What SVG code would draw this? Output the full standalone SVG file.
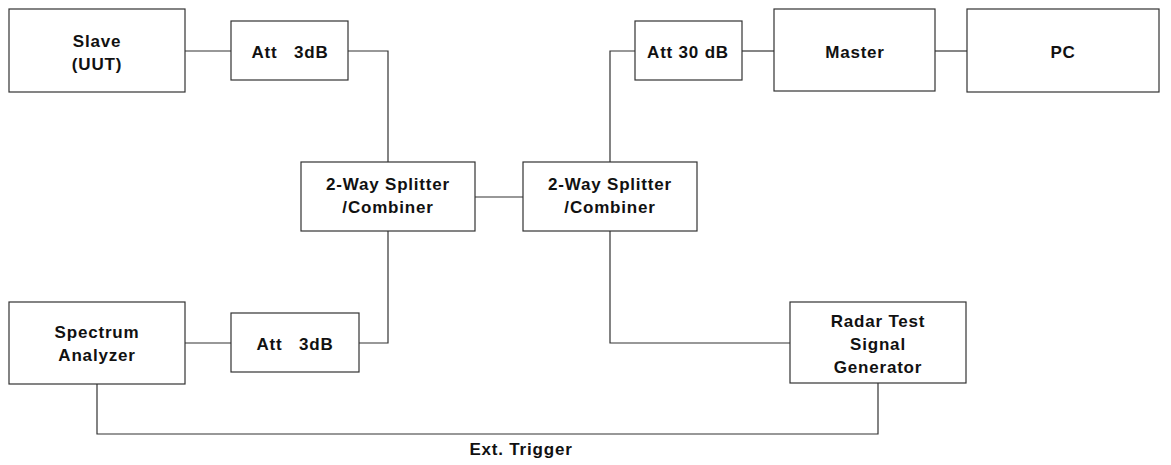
<svg xmlns="http://www.w3.org/2000/svg" width="1171" height="465" viewBox="0 0 1171 465">
  <style>
    .box { fill: #ffffff; stroke: #333333; stroke-width: 1.2; }
    .wire { fill: none; stroke: #333333; stroke-width: 1.2; }
    text { font-family: "Liberation Sans", Arial, sans-serif; font-size: 17px; font-weight: bold; fill: #111111; text-anchor: middle; letter-spacing: 0.8px; white-space: pre; }
  </style>
  <rect width="1171" height="465" fill="#ffffff"/>

  <g id="connectors">
    <line class="wire" x1="185" y1="51" x2="231" y2="51"/>
    <polyline class="wire" points="348,51 388,51 388,162"/>
    <polyline class="wire" points="359,343 388,343 388,231"/>
    <line class="wire" x1="185" y1="343" x2="231" y2="343"/>
    <line class="wire" x1="475" y1="197" x2="523" y2="197"/>
    <polyline class="wire" points="635,51 610,51 610,162"/>
    <polyline class="wire" points="610,231 610,343 790,343"/>
    <line class="wire" x1="742" y1="51" x2="774" y2="51"/>
    <line class="wire" x1="935" y1="51" x2="967" y2="51"/>
    <polyline class="wire" points="97,384 97,434 878,434 878,383"/>
  </g>

  <g id="slave">
    <rect class="box" x="9" y="9" width="176" height="83"/>
    <text x="97" y="47">Slave</text>
    <text x="97" y="70">(UUT)</text>
  </g>
  <g id="att-top">
    <rect class="box" x="231" y="21" width="117" height="59"/>
    <text x="290" y="58">Att   3dB</text>
  </g>
  <g id="splitter-left">
    <rect class="box" x="301" y="162" width="174" height="69"/>
    <text x="388" y="190">2-Way Splitter</text>
    <text x="388" y="213">/Combiner</text>
  </g>
  <g id="splitter-right">
    <rect class="box" x="523" y="162" width="174" height="69"/>
    <text x="610" y="190">2-Way Splitter</text>
    <text x="610" y="213">/Combiner</text>
  </g>
  <g id="att-30">
    <rect class="box" x="635" y="21" width="107" height="59"/>
    <text x="688" y="58">Att 30 dB</text>
  </g>
  <g id="master">
    <rect class="box" x="774" y="9" width="161" height="82"/>
    <text x="855" y="58">Master</text>
  </g>
  <g id="pc">
    <rect class="box" x="967" y="9" width="192" height="83"/>
    <text x="1063" y="58">PC</text>
  </g>
  <g id="spectrum-analyzer">
    <rect class="box" x="9" y="302" width="176" height="82"/>
    <text x="97" y="338">Spectrum</text>
    <text x="97" y="361">Analyzer</text>
  </g>
  <g id="att-bottom">
    <rect class="box" x="231" y="313" width="128" height="59"/>
    <text x="295" y="350">Att   3dB</text>
  </g>
  <g id="radar-generator">
    <rect class="box" x="790" y="302" width="176" height="81"/>
    <text x="878" y="327">Radar Test</text>
    <text x="878" y="350">Signal</text>
    <text x="878" y="373">Generator</text>
  </g>
  <text x="521" y="455">Ext. Trigger</text>
</svg>
